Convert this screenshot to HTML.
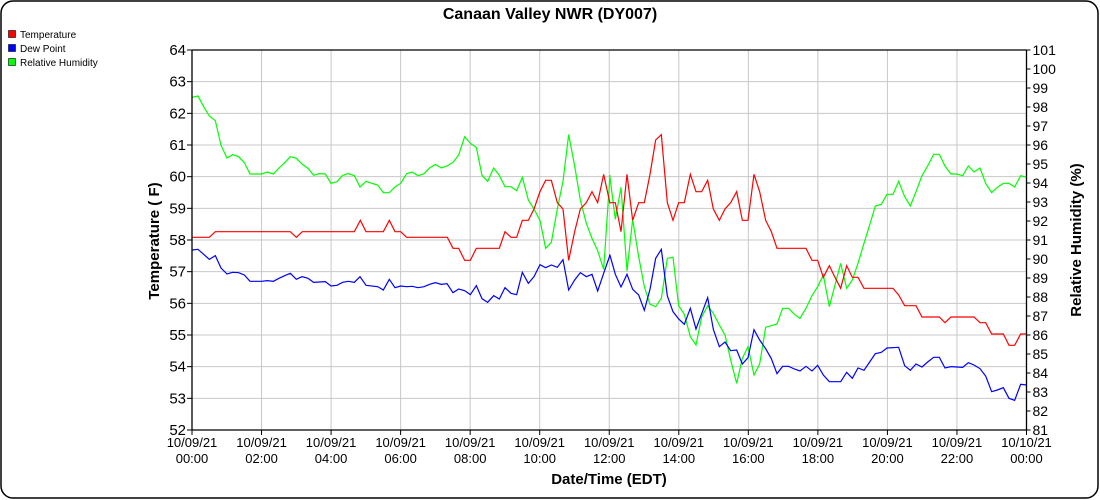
<!DOCTYPE html>
<html><head><meta charset="utf-8"><style>
html,body{margin:0;padding:0;background:#fff;}
svg{display:block;font-family:"Liberation Sans",sans-serif;}
</style></head><body>
<svg width="1100" height="500" viewBox="0 0 1100 500">
<rect x="1" y="1" width="1097" height="497" rx="12" fill="#fff" stroke="#000" stroke-width="1.5"/>
<text x="550" y="19" text-anchor="middle" font-size="16" font-weight="bold">Canaan Valley NWR (DY007)</text>
<rect x="8.5" y="30.5" width="7" height="7" fill="#f00" stroke="#000" stroke-width="0.6"/>
<text x="20" y="38" font-size="10">Temperature</text>
<rect x="8.5" y="44.5" width="7" height="7" fill="#00f" stroke="#000" stroke-width="0.6"/>
<text x="20" y="52" font-size="10">Dew Point</text>
<rect x="8.5" y="58.5" width="7" height="7" fill="#0f0" stroke="#000" stroke-width="0.6"/>
<text x="20" y="66" font-size="10">Relative Humidity</text>
<g id="grid" stroke="#c8c8c8" stroke-width="1"></g>
<g id="lab"></g>
<g fill="none" stroke-width="1.2">
<g transform="translate(180,40) scale(0.33333)">
<polyline vector-effect="non-scaling-stroke" stroke="#00ff00" points="37,172 54,168 71,200 88,228 106,242 123,316 141,354 158,344 176,350 193,368 210,402 245,402 262,396 280,402 297,384 314,368 331,350 349,355 366,372 384,385 401,406 418,401 436,402 453,430 471,425 488,406 505,401 523,407 540,441 558,424 575,430 593,435 610,458 628,458 645,441 662,430 680,401 697,396 714,407 732,401 749,384 766,373 784,384 801,378 819,367 836,345 854,290 871,310 889,322 906,406 923,424 941,384 958,406 975,440 993,440 1010,452 1027,412 1045,480 1062,507 1080,541 1097,625 1114,607 1132,507 1149,424 1166,284 1184,378 1201,480 1219,550 1236,595 1253,632 1271,688 1290,405"/>
<polyline vector-effect="non-scaling-stroke" stroke="#0000ff" points="37,630 54,628 71,643 88,658 106,647 123,684 141,702 158,697 176,698 193,705 210,724 245,724 262,722 280,724 297,715 314,707 331,700 349,718 366,710 384,715 401,727 436,725 453,738 471,736 488,727 505,724 523,727 540,710 558,736 593,740 610,750 628,718 645,743 662,738 680,740 697,739 714,743 732,740 749,733 766,728 784,733 801,731 819,758 836,747 854,752 871,764 889,737 906,776 923,787 941,767 958,777 975,743 993,760 1010,764 1027,697 1045,730 1062,710 1080,674 1097,683 1114,675 1132,682 1149,659 1166,750 1184,720 1201,698 1219,710 1236,703 1253,753 1271,700 1290,645"/>
<polyline vector-effect="non-scaling-stroke" stroke="#ff0000" points="37,592 88,592 106,575 331,575 349,592 367,575 523,575 541,541 558,575 610,575 628,541 645,575 662,575 680,592 802,592 819,625 836,625 854,661 871,661 889,625 958,625 975,575 993,592 1010,592 1027,541 1045,541 1062,507 1080,455 1097,421 1114,421 1132,488 1149,507 1166,661 1184,575 1201,507 1219,488 1236,455 1253,488 1271,403 1290,490"/>
</g>
<g transform="translate(600,40) scale(0.33333)">
<polyline vector-effect="non-scaling-stroke" stroke="#00ff00" points="29,405 46,538 63,442 81,693 98,538 116,650 133,740 150,793 167,800 184,775 202,655 219,652 236,797 253,823 271,890 288,915 305,831 323,797 340,820 358,855 375,885 392,960 410,1030 427,955 444,920 462,1005 479,972 497,862 514,857 531,852 548,805 566,805 583,823 600,835 618,805 636,767 653,740 670,705 688,800 705,735 722,670 740,745 757,720 774,670 792,610 809,555 826,498 844,493 861,463 879,463 896,424 914,470 931,498 948,455 966,407 983,378 1001,343 1018,343 1035,378 1053,402 1070,402 1088,407 1105,378 1122,396 1140,384 1157,430 1175,458 1192,442 1210,430 1227,430 1244,441 1262,407 1280,412"/>
<polyline vector-effect="non-scaling-stroke" stroke="#0000ff" points="29,643 46,703 63,741 81,703 98,748 116,765 133,811 150,748 167,655 184,628 202,768 219,815 236,837 253,853 271,805 288,867 305,821 323,773 340,868 358,920 375,906 392,932 410,930 427,972 444,953 462,869 479,900 497,926 514,956 531,1001 548,979 566,979 583,987 600,993 618,979 636,993 653,976 670,1005 688,1025 722,1025 740,997 757,1015 774,984 792,991 809,966 826,941 844,937 861,924 896,922 914,977 931,991 948,972 966,981 983,966 1001,952 1018,952 1035,984 1053,980 1088,982 1105,968 1122,975 1140,986 1157,1008 1175,1055 1192,1050 1210,1043 1227,1075 1244,1081 1262,1033 1280,1035"/>
<polyline vector-effect="non-scaling-stroke" stroke="#ff0000" points="29,488 46,488 63,575 81,403 98,541 116,488 133,488 150,403 167,300 184,284 202,488 219,541 236,488 253,488 271,403 288,455 305,455 323,421 340,507 358,541 375,507 392,488 410,455 427,541 444,541 462,403 479,455 497,541 514,575 531,625 618,625 636,661 653,661 670,712 688,677 705,712 722,745 740,677 757,712 774,712 792,745 879,745 896,765 914,797 948,797 966,831 1018,831 1035,848 1053,831 1122,831 1140,848 1157,848 1175,882 1210,882 1227,916 1244,916 1262,882 1280,882"/>
</g>
</g>
<g stroke="#000" stroke-width="1.3" fill="none">
<line x1="192" y1="50" x2="1026.5" y2="50"/>
<line x1="192" y1="50" x2="192" y2="430"/>
<line x1="1026.5" y1="50" x2="1026.5" y2="430"/>
<line x1="192" y1="430" x2="1026.5" y2="430"/>
</g>
<g id="ticks" stroke="#000" stroke-width="1"></g>
<text transform="translate(159,241) rotate(-90)" text-anchor="middle" font-size="15" font-weight="bold">Temperature ( F)</text>
<text transform="translate(1081,240) rotate(-90)" text-anchor="middle" font-size="15" font-weight="bold">Relative Humidity (%)</text>
<text x="609" y="484" text-anchor="middle" font-size="15" font-weight="bold">Date/Time (EDT)</text>
</svg>
<script>
var ns="http://www.w3.org/2000/svg";
function el(p,t,a,txt){var e=document.createElementNS(ns,t);for(var k in a)e.setAttribute(k,a[k]);if(txt!=null)e.textContent=txt;document.getElementById(p).appendChild(e);}
var L=192,R=1026.5,T=50,B=430;
for(var i=0;i<=12;i++){var y=T+(B-T)*i/12;
 if(i>0&&i<12)el("grid","line",{x1:L,x2:R,y1:y,y2:y});
 el("ticks","line",{x1:L-5,x2:L,y1:y,y2:y});
 el("lab","text",{x:L-6,y:y+5,"text-anchor":"end","font-size":"15"},String(64-i));}
for(var i=0;i<=20;i++){var y=T+(B-T)*i/20;
 el("ticks","line",{x1:R,x2:R+4,y1:y,y2:y});
 el("lab","text",{x:R+6,y:y+5,"font-size":"14"},String(101-i));}
for(var i=0;i<=12;i++){var x=L+(R-L)*i/12;
 if(i>0&&i<12)el("grid","line",{x1:x,x2:x,y1:T,y2:B});
 el("ticks","line",{x1:x,x2:x,y1:B,y2:B+5});
 var h=(2*i)%24;var hs=(h<10?"0":"")+h+":00";
 el("lab","text",{x:x,y:447,"text-anchor":"middle","font-size":"13"},i==12?"10/10/21":"10/09/21");
 el("lab","text",{x:x,y:463,"text-anchor":"middle","font-size":"13"},hs);}
</script>
</body></html>
